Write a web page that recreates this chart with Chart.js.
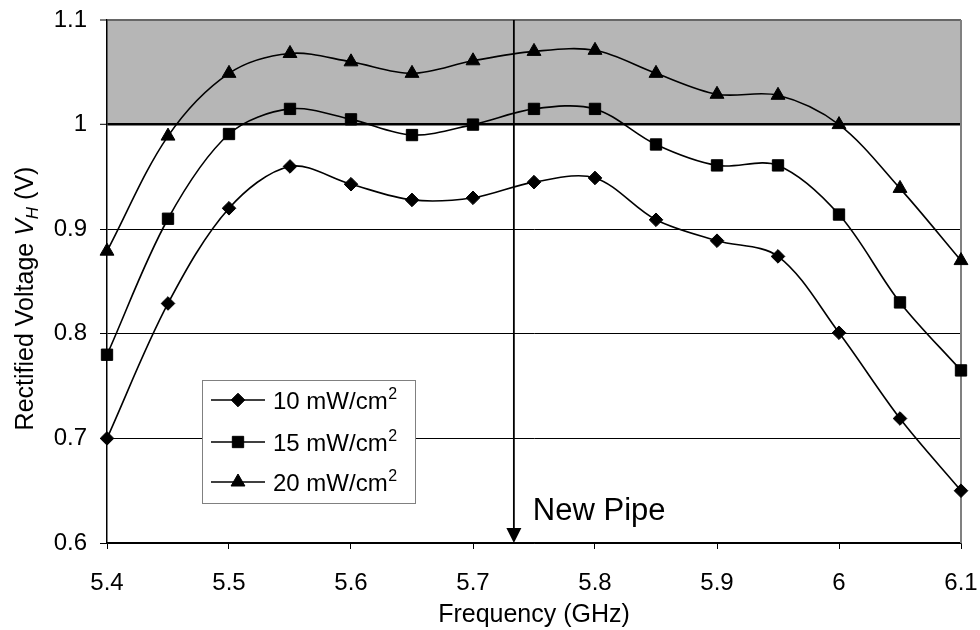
<!DOCTYPE html>
<html>
<head>
<meta charset="utf-8">
<script src="https://cdn.jsdelivr.net/npm/chart.js@4.4.0/dist/chart.umd.min.js"></script>
<style>
html,body{margin:0;padding:0;background:#fff;}
#wrap{width:980px;height:630px;position:relative;}
</style>
</head>
<body>
<div id="wrap"><canvas id="c"></canvas></div>
<script>
// ---- data ----
const frequencies = [5.4, 5.45, 5.5, 5.55, 5.6, 5.65, 5.7, 5.75, 5.8, 5.85, 5.9, 5.95, 6.0, 6.05, 6.1];
const voltage10 = [0.700, 0.829, 0.920, 0.960, 0.943, 0.928, 0.930, 0.945, 0.949, 0.909, 0.889, 0.874, 0.801, 0.719, 0.650];
const voltage15 = [0.780, 0.910, 0.991, 1.015, 1.005, 0.990, 1.000, 1.015, 1.015, 0.981, 0.961, 0.961, 0.914, 0.830, 0.765];
const voltage20 = [0.879, 0.989, 1.049, 1.068, 1.060, 1.049, 1.061, 1.070, 1.071, 1.049, 1.029, 1.028, 1.000, 0.939, 0.870];
const seriesLabels = ['10 mW/cm²', '15 mW/cm²', '20 mW/cm²'];
const seriesMarkers = ['rectRot', 'rect', 'triangle'];
const xTickValues = [5.4, 5.5, 5.6, 5.7, 5.8, 5.9, 6.0, 6.1];
const yTickValues = [0.6, 0.7, 0.8, 0.9, 1.0, 1.1];
const bandRange = [1.0, 1.1];
const pipeFrequency = 5.7335;
const pipeLabel = 'New Pipe';
const xTitle = 'Frequency (GHz)';
const yTitleParts = ['Rectified Voltage ', 'V', 'H', ' (V)'];

const FONT = '"Liberation Sans", Arial, Helvetica, sans-serif';

function toPoints(vals) { return frequencies.map((f, i) => ({x: f, y: vals[i]})); }
function fmt(v) { return String(parseFloat(Number(v).toFixed(2))); }

const markerRadius = {rectRot: 6.8, rect: 8, triangle: 8};

function drawMarker(ctx, style, x, y) {
  const r = markerRadius[style];
  ctx.beginPath();
  if (style === 'rectRot') {
    ctx.moveTo(x - r, y); ctx.lineTo(x, y - r); ctx.lineTo(x + r, y); ctx.lineTo(x, y + r);
  } else if (style === 'rect') {
    const s = r * Math.SQRT1_2;
    ctx.rect(x - s, y - s, 2 * s, 2 * s);
  } else {
    ctx.moveTo(x, y - r);
    ctx.lineTo(x + r * Math.sin(2 * Math.PI / 3), y - r * Math.cos(2 * Math.PI / 3));
    ctx.lineTo(x + r * Math.sin(4 * Math.PI / 3), y - r * Math.cos(4 * Math.PI / 3));
  }
  ctx.closePath();
  ctx.fillStyle = '#000';
  ctx.fill();
  ctx.lineWidth = 1;
  ctx.strokeStyle = '#000';
  ctx.stroke();
}

const decorPlugin = {
  id: 'decor',
  beforeDraw(chart) {
    const {ctx, chartArea, scales} = chart;
    const yTop = scales.y.getPixelForValue(bandRange[1]);
    const yBot = scales.y.getPixelForValue(bandRange[0]);
    ctx.save();
    ctx.fillStyle = '#b6b6b6';
    ctx.fillRect(chartArea.left, yTop, chartArea.right - chartArea.left, yBot - yTop);
    ctx.restore();
  },
  beforeDatasetsDraw(chart) {
    const {ctx, chartArea} = chart;
    ctx.save();
    ctx.strokeStyle = '#808080';
    ctx.lineWidth = 2;
    ctx.beginPath();
    ctx.moveTo(chartArea.right, chartArea.top);
    ctx.lineTo(chartArea.right, chartArea.bottom);
    ctx.stroke();
    ctx.restore();
  },
  afterDatasetsDraw(chart) {
    const {ctx, chartArea, scales} = chart;
    ctx.save();
    // New Pipe arrow
    const ax = scales.x.getPixelForValue(pipeFrequency);
    ctx.strokeStyle = '#000';
    ctx.lineWidth = 1.8;
    ctx.beginPath();
    ctx.moveTo(ax, chartArea.top);
    ctx.lineTo(ax, chartArea.bottom - 12);
    ctx.stroke();
    ctx.fillStyle = '#000';
    ctx.beginPath();
    ctx.moveTo(ax - 7.5, chartArea.bottom - 15);
    ctx.lineTo(ax + 7.5, chartArea.bottom - 15);
    ctx.lineTo(ax, chartArea.bottom);
    ctx.closePath();
    ctx.fill();
    ctx.font = '31px ' + FONT;
    ctx.textAlign = 'left';
    ctx.textBaseline = 'alphabetic';
    ctx.fillText(pipeLabel, ax + 19, chartArea.bottom - 23);

    // Legend
    const bx = chartArea.left + 95, by = chartArea.top + 360, bw = 213, bh = 123;
    ctx.fillStyle = '#fff';
    ctx.fillRect(bx, by, bw, bh);
    ctx.strokeStyle = '#808080';
    ctx.lineWidth = 1;
    ctx.strokeRect(bx + 0.5, by + 0.5, bw, bh);
    const offsets = [20, 62, 102];
    chart.data.datasets.forEach((ds, i) => {
      const iy = by + offsets[i];
      ctx.strokeStyle = '#000';
      ctx.lineWidth = 1.5;
      ctx.beginPath();
      ctx.moveTo(bx + 9, iy);
      ctx.lineTo(bx + 63, iy);
      ctx.stroke();
      drawMarker(ctx, seriesMarkers[i], bx + 36, iy);
      ctx.fillStyle = '#000';
      ctx.textAlign = 'left';
      ctx.textBaseline = 'alphabetic';
      const label = ds.label;
      const hasSup = label.endsWith('²');
      const main = hasSup ? label.slice(0, -1) : label;
      ctx.font = '24px ' + FONT;
      ctx.fillText(main, bx + 71, iy + 9);
      if (hasSup) {
        const w = ctx.measureText(main).width;
        ctx.font = '16px ' + FONT;
        ctx.fillText('2', bx + 71 + w + 0.5, iy - 1);
      }
    });

    // Y axis title
    const cy = (chartArea.top + chartArea.bottom) / 2 + 17;
    ctx.translate(33, cy);
    ctx.rotate(-Math.PI / 2);
    const fN = '25px ' + FONT, fI = 'italic 25px ' + FONT, fS = 'italic 17px ' + FONT;
    ctx.font = fN; const w0 = ctx.measureText(yTitleParts[0]).width;
    ctx.font = fI; const w1 = ctx.measureText(yTitleParts[1]).width;
    ctx.font = fS; const w2 = ctx.measureText(yTitleParts[2]).width;
    ctx.font = fN; const w3 = ctx.measureText(yTitleParts[3]).width;
    let tx = -(w0 + w1 + w2 + w3) / 2;
    ctx.fillStyle = '#000';
    ctx.textAlign = 'left';
    ctx.textBaseline = 'alphabetic';
    ctx.font = fN; ctx.fillText(yTitleParts[0], tx, 0); tx += w0;
    ctx.font = fI; ctx.fillText(yTitleParts[1], tx, 0); tx += w1;
    ctx.font = fS; ctx.fillText(yTitleParts[2], tx, 5); tx += w2;
    ctx.font = fN; ctx.fillText(yTitleParts[3], tx, 0);
    ctx.restore();
  }
};

const datasets = [voltage10, voltage15, voltage20].map((vals, i) => ({
  label: seriesLabels[i],
  data: toPoints(vals),
  borderColor: '#000',
  backgroundColor: '#000',
  borderWidth: 1.6,
  pointStyle: seriesMarkers[i],
  pointRadius: markerRadius[seriesMarkers[i]],
  pointHoverRadius: markerRadius[seriesMarkers[i]],
  pointBorderWidth: 1,
  pointBorderColor: '#000',
  pointBackgroundColor: '#000',
  tension: 0.33,
  fill: false,
  clip: false
}));

new Chart(document.getElementById('c'), {
  type: 'line',
  data: { datasets },
  options: {
    responsive: true,
    maintainAspectRatio: false,
    animation: false,
    devicePixelRatio: 1,
    layout: { padding: { top: 20, right: 19, left: 0, bottom: 0 } },
    plugins: { legend: { display: false }, tooltip: { enabled: false } },
    scales: {
      x: {
        type: 'linear',
        min: 5.4, max: 6.1,
        afterBuildTicks: s => { s.ticks = xTickValues.map(v => ({value: v})); },
        afterFit: s => { s.height = 87; s.paddingLeft = 0; s.paddingRight = 0; },
        ticks: { color: '#000', font: { family: FONT, size: 24 }, padding: 20, maxRotation: 0, autoSkip: false, callback: v => fmt(v) },
        grid: { drawOnChartArea: false, drawTicks: true, tickLength: 6, color: '#000', tickColor: '#000', tickWidth: 1 },
        border: { display: true, color: '#000', width: 1.5 },
        title: { display: true, text: xTitle, color: '#000', font: { family: FONT, size: 25 }, padding: { top: 0, bottom: 0 } }
      },
      y: {
        type: 'linear',
        min: 0.6, max: 1.1,
        afterBuildTicks: s => { s.ticks = yTickValues.map(v => ({value: v})); },
        afterFit: s => { s.width = 107; s.paddingTop = 0; s.paddingBottom = 0; },
        ticks: { color: '#000', font: { family: FONT, size: 24 }, padding: 13, callback: v => fmt(v) },
        grid: {
          drawTicks: true, tickLength: 7, tickColor: '#000', tickWidth: 1,
          color: c => (c.tick && Math.abs(c.tick.value - 1.1) < 1e-6) ? '#666' : '#000',
          lineWidth: c => {
            if (!c.tick) return 1;
            if (Math.abs(c.tick.value - 1.0) < 1e-6) return 2.6;
            if (Math.abs(c.tick.value - 1.1) < 1e-6) return 2;
            return 1;
          }
        },
        border: { display: true, color: '#000', width: 1.5 }
      }
    }
  },
  plugins: [decorPlugin]
});
</script>
</body>
</html>
